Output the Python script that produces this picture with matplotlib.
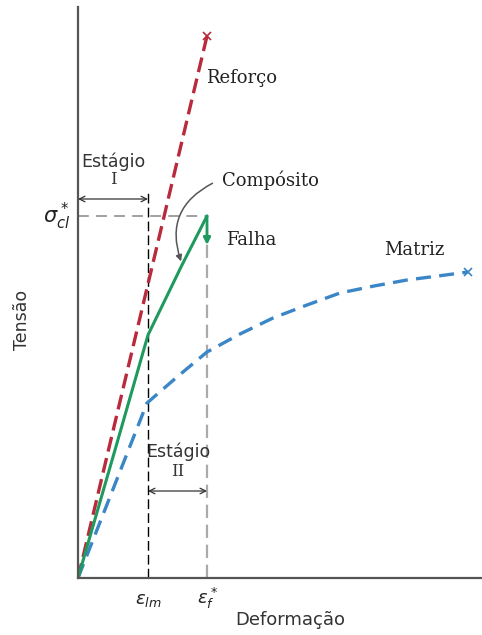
import matplotlib
matplotlib.use("Agg")
import matplotlib.pyplot as plt
from matplotlib.patches import FancyArrowPatch

# valores (unidades arbitrarias)
reforco_x = [0, 129]
reforco_y = [0, 542]
compos_x = [0, 37, 70, 104, 129]
compos_y = [0, 128, 243, 313, 362]
falha_y = [362, 333]
matriz_x = [0, 69, 99, 129, 162, 195, 229, 262, 296, 329, 360, 390]
matriz_y = [0, 175, 201, 226, 244, 260, 273, 285, 292, 298, 302, 306]
eps_lm = 70
eps_f = 129
sigma_cl = 362

red = '#b82a3c'
green = '#1f9a5e'
blue = '#3a86c6'

fig = plt.figure(figsize=(4.82, 6.35), dpi=100)
ax = fig.add_axes([78/482, 57/635, 404/482, 571/635])
ax.set_xlim(0, 404)
ax.set_ylim(0, 571)
for s in ['top', 'right']:
    ax.spines[s].set_visible(False)
for s in ['left', 'bottom']:
    ax.spines[s].set_color('#555555')
    ax.spines[s].set_linewidth(1.6)
ax.set_xticks([])
ax.set_yticks([])

# linhas guia
ax.plot([0, eps_f], [sigma_cl, sigma_cl], color='#999999', lw=1.3, dashes=(6, 4), zorder=1)
ax.plot([eps_lm, eps_lm], [0, 388], color='black', lw=1.0, dashes=(7, 3), zorder=1)
ax.plot([eps_f, eps_f], [0, sigma_cl], color='#aaaaaa', lw=1.6, dashes=(6, 3), zorder=1)

# curvas
ax.plot(reforco_x, reforco_y, color=red, lw=2.4, dashes=(4.5, 2))
ax.plot(reforco_x[-1], reforco_y[-1], marker='x', color=red, ms=6, mew=1.2)
ax.plot(matriz_x, matriz_y, color=blue, lw=2.4, dashes=(4.5, 2.5))
ax.plot(matriz_x[-1], matriz_y[-1], marker='x', color=blue, ms=6, mew=1.2)
ax.plot(compos_x, compos_y, color=green, lw=2.2, solid_capstyle='round')
ax.annotate('', xy=(eps_f, falha_y[1]), xytext=(eps_f, falha_y[0]),
            arrowprops=dict(arrowstyle='-|>', color=green, lw=2, mutation_scale=10,
                            shrinkA=0, shrinkB=0))

# setas dos estagios
ax.annotate('', xy=(0, 379), xytext=(eps_lm, 379),
            arrowprops=dict(arrowstyle='<->', color='#333333', lw=0.9, shrinkA=0, shrinkB=0))
ax.annotate('', xy=(eps_lm, 87), xytext=(eps_f, 87),
            arrowprops=dict(arrowstyle='<->', color='#333333', lw=0.9, shrinkA=0, shrinkB=0))
ax.text(35, 416, 'Estágio', ha='center', va='center', fontsize=12.5, color='#333333')
ax.text(35, 398, 'I', ha='center', va='center', fontsize=12, family='DejaVu Serif', color='#333333')
ax.text(100, 126, 'Estágio', ha='center', va='center', fontsize=12.5, color='#333333')
ax.text(100, 106, 'II', ha='center', va='center', fontsize=12, family='DejaVu Serif', color='#333333')

# seta do composito
arr = FancyArrowPatch((137, 396), (104, 314), connectionstyle='arc3,rad=0.45',
                      arrowstyle='-|>', mutation_scale=9, color='#555555', lw=1.1)
ax.add_patch(arr)

serif = 'DejaVu Serif'
ax.text(128, 500, 'Reforço', ha='left', va='center', fontsize=13, family=serif, color='#222222')
ax.text(144, 398, 'Compósito', ha='left', va='center', fontsize=13, family=serif, color='#222222')
ax.text(148, 338, 'Falha', ha='left', va='center', fontsize=13, family=serif, color='#222222')
ax.text(306, 328, 'Matriz', ha='left', va='center', fontsize=13, family=serif, color='#222222')

ax.text(-21, 362, r'$\sigma^*_{cl}$', ha='center', va='center', fontsize=15, color='#222222')
ax.text(eps_lm, -22, r'$\epsilon_{lm}$', ha='center', va='center', fontsize=13, color='#222222')
ax.text(eps_f, -20, r'$\epsilon^*_f$', ha='center', va='center', fontsize=13, color='#222222')
ax.text(-56, 258, 'Tensão', ha='center', va='center', rotation=90, fontsize=12.5, color='#333333')
ax.text(212, -42, 'Deformação', ha='center', va='center', fontsize=13, color='#333333')

fig.savefig('out.png', dpi=100)
